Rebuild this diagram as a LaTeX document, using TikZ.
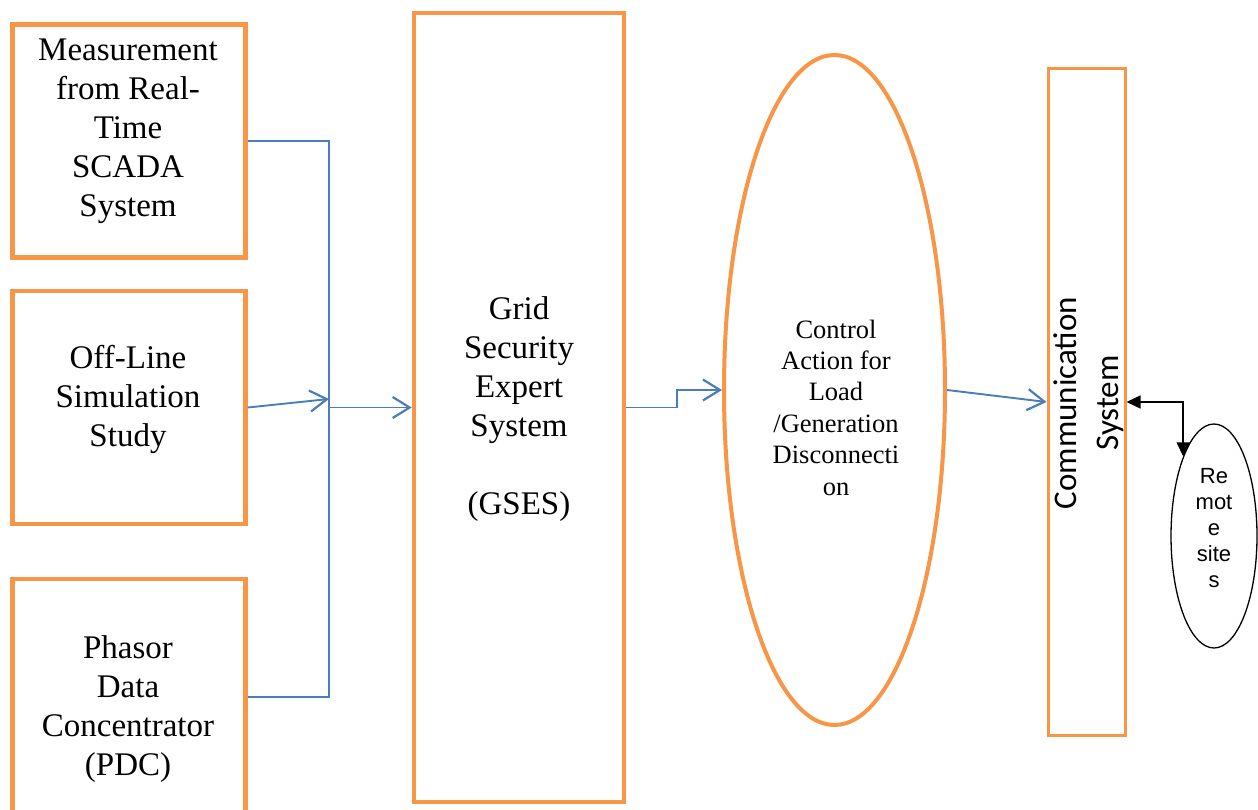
\documentclass[tikz,border=0pt]{standalone}
\usepackage{fontspec}
\setmainfont{Liberation Serif}
\newfontfamily\carlito{Carlito}
\newfontfamily\arialf{Liberation Sans}
\usetikzlibrary{arrows.meta,shapes.geometric}
\definecolor{orng}{HTML}{F79646}
\definecolor{lblue}{HTML}{4A7EBB}
\tikzset{
  obox/.style={draw=orng, line width=4.5pt, rectangle, inner sep=0pt},
  conn/.style={draw=lblue, line width=1.9pt},
  barb/.style={-{Straight Barb[length=17pt,width=21pt,line width=2.2pt]}},
  blk/.style={draw=black, line width=1.5pt, {Triangle[length=14pt,width=13pt]}-{Triangle[length=14pt,width=13pt]}},
  serift/.style={align=center, inner sep=0pt, font=\fontsize{33}{39}\selectfont},
}
\begin{document}
\begin{tikzpicture}[x=1pt,y=-1pt]
\clip (0,0) rectangle (1258,810);
\fill[white] (0,0) rectangle (1258,810);
% boxes
\node[obox, minimum width=233pt, minimum height=233pt] (b1) at (129,141) {};
\node[obox, minimum width=233pt, minimum height=233pt] (b2) at (129,407.5) {};
\node[obox, minimum width=233pt, minimum height=236pt] (b3) at (129,697) {};
\node[obox, minimum width=210pt, minimum height=789pt] (g) at (519,407.5) {};
\node[draw=orng, line width=4pt, ellipse, inner sep=0pt, minimum width=221pt, minimum height=670pt] (e) at (834.5,390) {};
\node[draw=orng, line width=3pt, rectangle, inner sep=0pt, minimum width=77pt, minimum height=667pt] (c) at (1086.5,402) {};
\node[draw=black, line width=1.3pt, ellipse, inner sep=0pt, minimum width=86pt, minimum height=224pt] (r) at (1214,536) {};
% texts
\node[serift] (t1) at (128,131) {Measurement\\from Real-\\Time\\SCADA\\System};
\node[serift] (t2) at (128,399) {Off-Line\\Simulation\\Study};
\node[serift] (t3) at (128,709) {Phasor\\Data\\Concentrator\\(PDC)};
\node[serift] (tg) at (519,409) {Grid\\Security\\Expert\\System\\\mbox{}\\(GSES)};
\node[align=center, inner sep=0pt, font=\fontsize{26.5}{31.4}\selectfont] (te) at (836,407.5) {Control\\Action for\\Load\\/Generation\\Disconnecti\\on};
\node[align=center, inner sep=0pt, rotate=90, font=\carlito\fontsize{33}{42}\selectfont] (tc) at (1089,403) {Communication\\System};
\node[align=center, inner sep=0pt, font=\arialf\fontsize{22}{26.2}\selectfont] (tr) at (1214,528) {Re\\mot\\e\\site\\s};
% connectors
\coordinate (j) at (329,407.5);
\coordinate (j2) at (329,399);
\draw[conn] (b1.east) -| (j) |- (b3.east);
\draw[conn,barb] (b2.east) -- (j2);
\draw[conn,barb] (j) -- (g.west);
\draw[conn,barb] (g.east) -- ++(51,0) |- (e.west);
\draw[conn,barb] (e.east) -- (c.west);
\draw[blk] (c.east) -| (r.north west);
\end{tikzpicture}
\end{document}
